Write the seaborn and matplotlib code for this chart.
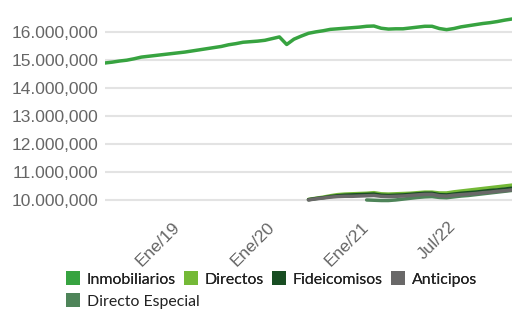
import numpy as np
import pandas as pd
import matplotlib
matplotlib.use("Agg")
import matplotlib.pyplot as plt
import matplotlib.ticker as mticker
from matplotlib.patches import Patch
import seaborn as sns

# ---- data (values in millions) ----
n_points = 57
tick_idx = [10, 23, 36, 48]
tick_labels = ["Ene/19", "Ene/20", "Ene/21", "Jul/22"]

inmobiliarios = [14.89, 14.92, 14.96, 14.99, 15.04, 15.10, 15.13, 15.16, 15.19, 15.22,
                 15.25, 15.28, 15.32, 15.36, 15.40, 15.44, 15.48, 15.54, 15.58, 15.63,
                 15.65, 15.67, 15.70, 15.76, 15.82, 15.55, 15.74, 15.85, 15.95, 16.00,
                 16.04, 16.09, 16.11, 16.13, 16.15, 16.17, 16.20, 16.21, 16.13, 16.10,
                 16.11, 16.11, 16.14, 16.17, 16.20, 16.20, 16.12, 16.08, 16.12, 16.18,
                 16.22, 16.26, 16.30, 16.33, 16.37, 16.42, 16.46]

start_b = 28
directos = [10.02, 10.06, 10.10, 10.15, 10.19, 10.21, 10.22, 10.23, 10.24, 10.26,
            10.22, 10.21, 10.22, 10.23, 10.24, 10.26, 10.28, 10.28, 10.25, 10.25,
            10.29, 10.32, 10.35, 10.38, 10.41, 10.44, 10.47, 10.50, 10.53]
fideicomisos = [10.01, 10.05, 10.08, 10.12, 10.15, 10.17, 10.18, 10.19, 10.20, 10.21,
                10.17, 10.16, 10.17, 10.18, 10.20, 10.22, 10.24, 10.24, 10.19, 10.18,
                10.21, 10.24, 10.26, 10.28, 10.31, 10.34, 10.36, 10.39, 10.42]
anticipos = [10.00, 10.04, 10.07, 10.10, 10.12, 10.13, 10.13, 10.14, 10.15, 10.16,
             10.13, 10.12, 10.13, 10.14, 10.16, 10.18, 10.20, 10.20, 10.15, 10.14,
             10.17, 10.19, 10.21, 10.23, 10.26, 10.28, 10.31, 10.33, 10.36]
start_c = 36
directo_especial = [10.00, 9.99, 9.98, 9.98, 10.00, 10.03, 10.06, 10.09, 10.11, 10.12,
                    10.09, 10.08, 10.11, 10.14, 10.16, 10.19, 10.22, 10.25, 10.28, 10.31,
                    10.34]

names = ["Inmobiliarios", "Directos", "Fideicomisos", "Anticipos", "Directo Especial"]
colors = ["#37a340", "#74b937", "#184d22", "#696868", "#4e8459"]

# ---- build long dataframe ----
rows = []
def add(name, vals, start):
    for k, v in enumerate(vals):
        rows.append({"x": start + k, "y": v * 1e6, "serie": name})
add("Inmobiliarios", inmobiliarios, 0)
add("Directos", directos, start_b)
add("Fideicomisos", fideicomisos, start_b)
add("Directo Especial", directo_especial, start_c)
add("Anticipos", anticipos, start_b)
df = pd.DataFrame(rows)

sns.set_theme(style="white")
plt.rcParams["font.family"] = ["Liberation Sans", "DejaVu Sans"]

fig = plt.figure(figsize=(5.17, 3.10), dpi=100)
ax = fig.add_axes([105 / 517, 1 - 205 / 310, 407 / 517, 193 / 310])

pal = dict(zip(names, colors))
sns.lineplot(data=df, x="x", y="y", hue="serie", palette=pal,
             hue_order=["Inmobiliarios", "Directos", "Fideicomisos", "Directo Especial", "Anticipos"],
             linewidth=2.5, legend=False, ax=ax, estimator=None, sort=False)

ax.set_xlim(0, n_points - 1)
ax.set_ylim(9.82e6, 16.71e6)
ax.set_yticks([10e6, 11e6, 12e6, 13e6, 14e6, 15e6, 16e6])

def fmt(v, pos):
    s = f"{int(round(v)):,}"
    return s.replace(",", ".", 1)
ax.yaxis.set_major_formatter(mticker.FuncFormatter(fmt))

ax.set_xticks(tick_idx)
ax.set_xticklabels(tick_labels, rotation=45, ha="right", rotation_mode="anchor", va="center")
ax.tick_params(axis="x", length=0, pad=14, labelsize=12.5, labelcolor="#666666")
ax.tick_params(axis="y", length=0, pad=5, labelsize=12.5, labelcolor="#666666")
ax.set_xlabel("")
ax.set_ylabel("")
ax.grid(axis="y", color="#e3e3e3", linewidth=1.5)
ax.grid(axis="x", visible=False)
for sp in ax.spines.values():
    sp.set_visible(False)

handles = [Patch(facecolor=c, edgecolor="none") for c in colors]
leg_kw = dict(frameon=False, handlelength=0.9, handleheight=0.9, handletextpad=0.42,
              columnspacing=0.5, borderaxespad=0, borderpad=0,
              prop={"family": "Lato", "size": 11.4})
leg1 = fig.legend(handles[:4], names[:4], ncol=4, loc="center left",
                  bbox_to_anchor=(66 / 517, 1 - 279 / 310), **leg_kw)
for t in leg1.get_texts():
    t.set_color("#222222")
leg2 = fig.legend(handles[4:], names[4:], ncol=1, loc="center left",
                  bbox_to_anchor=(66 / 517, 1 - 301 / 310), **leg_kw)
for t in leg2.get_texts():
    t.set_color("#222222")
fig.add_artist(leg1)

fig.savefig("out.png", dpi=100)
